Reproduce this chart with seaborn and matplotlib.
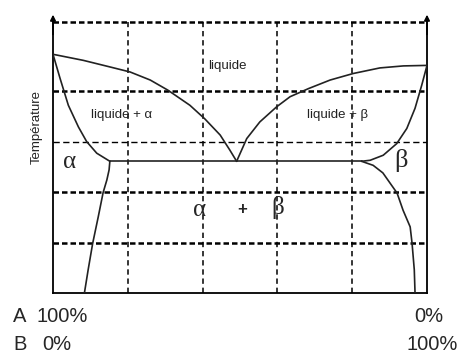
import pandas as pd
import seaborn as sns
import matplotlib.pyplot as plt
from matplotlib import font_manager as fm

# composition en %B, temperature en unites arbitraires
liq_left_x = [0, 8.1, 15.2, 20.6, 26.0, 30.7, 36.6, 40.6, 44.7, 47.3, 49.1]
liq_left_y = [4.73, 4.61, 4.48, 4.38, 4.22, 4.02, 3.72, 3.45, 3.13, 2.83, 2.61]
liq_right_x = [49.1, 51.8, 55.3, 59.8, 63.4, 68.3, 74.1, 80.3, 87.4, 93.7, 100]
liq_right_y = [2.61, 3.06, 3.39, 3.69, 3.89, 4.05, 4.22, 4.35, 4.46, 4.5, 4.51]
sol_left_x = [0, 1.9, 4.1, 6.8, 9.0, 11.7, 15.2]
sol_left_y = [4.73, 4.25, 3.72, 3.29, 3.0, 2.77, 2.61]
sol_right_x = [100, 98.6, 96.8, 94.6, 91.9, 88.3, 84.8, 82.5]
sol_right_y = [4.51, 4.12, 3.66, 3.26, 2.96, 2.73, 2.63, 2.61]
solvus_left_x = [15.2, 15.0, 14.4, 13.4, 12.1, 10.6, 9.4, 8.4]
solvus_left_y = [2.61, 2.44, 2.24, 1.99, 1.51, 0.98, 0.46, 0.0]
solvus_right_x = [82.5, 85.6, 88.2, 92.0, 93.6, 95.5, 96.0, 96.6, 96.8]
solvus_right_y = [2.61, 2.53, 2.38, 1.98, 1.64, 1.31, 0.99, 0.46, 0.0]
eutectic_x = [15.2, 82.5]
eutectic_y = [2.61, 2.61]

grid_x = [20, 40, 60, 80]
grid_y_thick = [1, 2, 4]
grid_y_thin = [3]
y_top = 5.37

sns.set_style('white')
has_narrow = any('Narrow' in f.name for f in fm.fontManager.ttflist)
plt.rcParams['font.family'] = ['Liberation Sans Narrow', 'Liberation Sans', 'DejaVu Sans']
k = 1.0 if has_narrow else 0.85  # police etroite sinon un peu plus petit

fig = plt.figure(figsize=(4.67, 3.53), dpi=100)
ax = fig.add_axes([53/467, 60/353, 374/467, 271/353])

# grille pointillee
for gx in grid_x:
    ax.axvline(gx, color='black', lw=1.1, ls=(0, (3.5, 2.5)), zorder=1)
for gy in grid_y_thick:
    ax.axhline(gy, color='black', lw=1.8, ls=(0, (2.2, 1.2)), zorder=1)
for gy in grid_y_thin:
    ax.axhline(gy, color='black', lw=1.0, ls=(0, (4.5, 2.5)), zorder=1)
ax.axhline(y_top, color='black', lw=1.8, ls=(0, (2.2, 1.2)), zorder=1, clip_on=False)

curves = [
    (liq_left_x, liq_left_y), (liq_right_x, liq_right_y),
    (sol_left_x, sol_left_y), (sol_right_x, sol_right_y),
    (solvus_left_x, solvus_left_y), (solvus_right_x, solvus_right_y),
    (eutectic_x, eutectic_y),
]
for cx, cy in curves:
    df = pd.DataFrame({'x': cx, 'y': cy})
    sns.lineplot(data=df, x='x', y='y', ax=ax, sort=False, estimator=None,
                 color='#222222', lw=1.2, zorder=3)

ax.set_xlim(0, 100)
ax.set_ylim(0, y_top)
ax.set_xticks([])
ax.set_yticks([])
ax.set_xlabel('')
ax.set_ylabel('')
ax.spines['top'].set_visible(False)
for s in ['left', 'right', 'bottom']:
    ax.spines[s].set_color('black')
    ax.spines[s].set_linewidth(1.3)

# fleches en haut des axes
for ax_x in [0, 100]:
    ax.annotate('', xy=(ax_x, y_top + 0.2), xytext=(ax_x, y_top - 0.3),
                arrowprops=dict(arrowstyle='-|>', color='black', lw=1.2, mutation_scale=8),
                annotation_clip=False)

# textes des domaines
ax.text(46.5, 4.5, 'liquide', fontsize=9.5*k, ha='center', va='center', color='#222222')
ax.text(18.2, 3.52, 'liquide + α', fontsize=9.5*k, ha='center', va='center', color='#222222')
ax.text(76, 3.52, 'liquide + β', fontsize=9.5*k, ha='center', va='center', color='#222222')
greek = ['Liberation Serif', 'DejaVu Serif']
ax.text(4.5, 2.6, 'α', fontsize=18, ha='center', va='center', family=greek)
ax.text(93, 2.62, 'β', fontsize=19, ha='center', va='center', family=greek)
ax.text(39.3, 1.65, 'α', fontsize=18, ha='center', va='center', family=greek)
ax.text(50.5, 1.65, '+', fontsize=12, ha='center', va='center', weight='bold')
ax.text(60.2, 1.69, 'β', fontsize=18, ha='center', va='center', family=greek)
ax.text(-4.3, 3.29, 'Température', fontsize=9.5*k, rotation=90, ha='center', va='center',
        color='#222222')

# compositions sous l'axe
fs = 14.5 * k
fig.text(13/467, 1 - 317/353, 'A', fontsize=fs, ha='left', va='center')
fig.text(37/467, 1 - 317/353, '100%', fontsize=fs, ha='left', va='center')
fig.text(13/467, 1 - 344/353, 'B', fontsize=fs, ha='left', va='center')
fig.text(42/467, 1 - 344/353, '0%', fontsize=fs, ha='left', va='center')
fig.text(429/467, 1 - 317/353, '0%', fontsize=fs, ha='center', va='center')
fig.text(432/467, 1 - 344/353, '100%', fontsize=fs, ha='center', va='center')

fig.savefig('out.png', dpi=100)
